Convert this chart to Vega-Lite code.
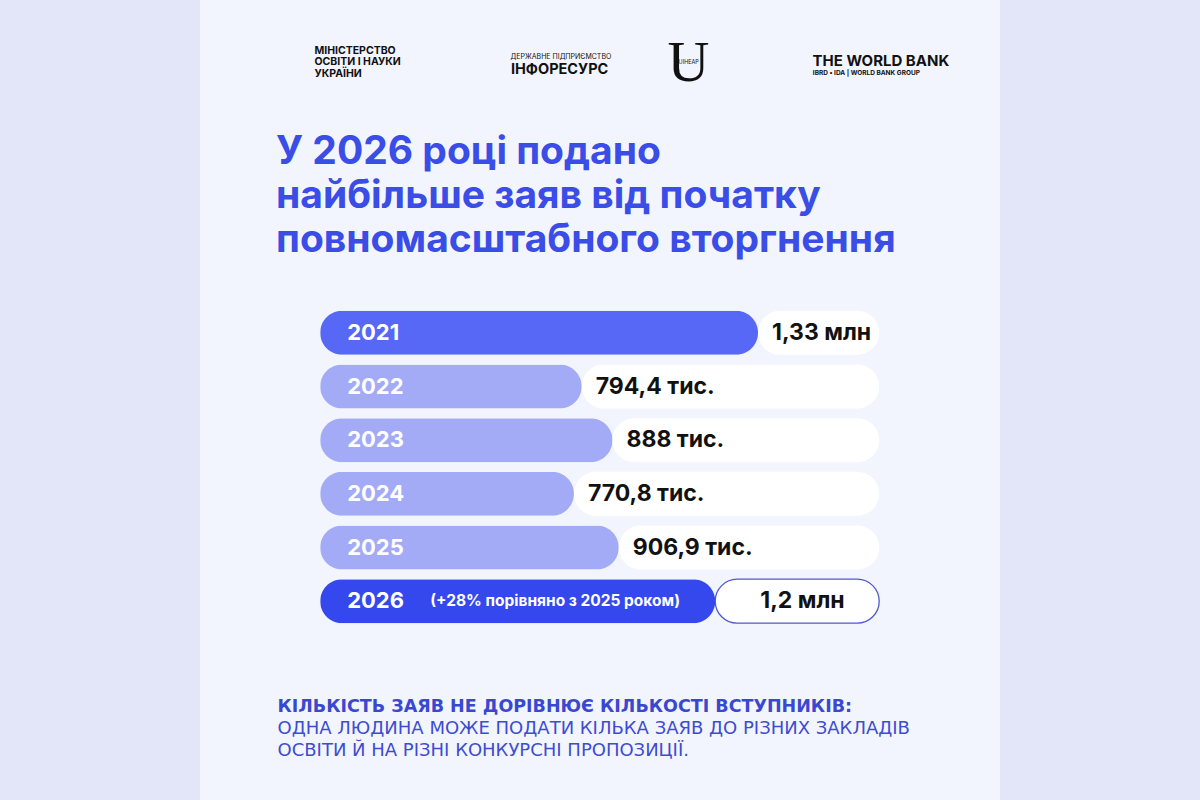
{
  "$schema": "https://vega.github.io/schema/vega-lite/v6.json",
  "width": 800,
  "height": 800,
  "autosize": {"type": "none"},
  "padding": {"left": 200, "right": 200, "top": 0, "bottom": 0},
  "background": "#e3e6f8",
  "config": {"view": {"fill": "#f2f5fe", "stroke": null}},
  "title": {
    "text": ["У 2026 році подано", "найбільше заяв від початку", "повномасштабного вторгнення"],
    "anchor": "start",
    "frame": "group",
    "orient": "top",
    "baseline": "top",
    "offset": -260,
    "dx": 76,
    "font": "Inter",
    "fontSize": 39,
    "fontWeight": 700,
    "lineHeight": 44,
    "color": "#3a4de6"
  },
  "data": {
    "values": [
      {"year": "2021", "value": 1330, "label": "1,33 млн", "note": ""},
      {"year": "2022", "value": 794.4, "label": "794,4 тис.", "note": ""},
      {"year": "2023", "value": 888, "label": "888 тис.", "note": ""},
      {"year": "2024", "value": 770.8, "label": "770,8 тис.", "note": ""},
      {"year": "2025", "value": 906.9, "label": "906,9 тис.", "note": ""},
      {"year": "2026", "value": 1200, "label": "1,2 млн", "note": "(+28% порівняно з 2025 роком)"}
    ]
  },
  "resolve": {"axis": {"x": "independent"}},
  "encoding": {
    "y": {
      "field": "year",
      "type": "nominal",
      "axis": null,
      "scale": {"range": [306, 628], "paddingInner": 0.18, "paddingOuter": 0.09}
    }
  },
  "layer": [
    {
      "mark": {"type": "bar", "cornerRadius": 22, "fill": "#ffffff", "strokeWidth": 1.3},
      "encoding": {
        "x": {
          "field": "value",
          "type": "quantitative",
          "scale": {"domain": [-365, 2065], "nice": false, "zero": false},
          "axis": {
            "orient": "top",
            "offset": -737,
            "values": [-131],
            "labelExpr": "['ОДНА ЛЮДИНА МОЖЕ ПОДАТИ КІЛЬКА ЗАЯВ ДО РІЗНИХ ЗАКЛАДІВ', 'ОСВІТИ Й НА РІЗНІ КОНКУРСНІ ПРОПОЗИЦІЇ.']",
            "labelAlign": "left",
            "labelFont": "DejaVu Sans",
            "labelFontSize": 18,
            "labelFontWeight": 400,
            "labelColor": "#3d4cd0",
            "labelLineHeight": 22,
            "labelPadding": 0,
            "labelLimit": 0,
            "labelFlush": false,
            "labelOverlap": false,
            "labelBound": false,
            "domain": false,
            "ticks": false,
            "grid": false,
            "title": "КІЛЬКІСТЬ ЗАЯВ НЕ ДОРІВНЮЄ КІЛЬКОСТІ ВСТУПНИКІВ:",
            "titleFont": "DejaVu Sans",
            "titleFontSize": 17.5,
            "titleFontWeight": 700,
            "titleColor": "#3a48d0",
            "titleAnchor": "start",
            "titleAlign": "left",
            "titleLimit": 0,
            "titleX": 77,
            "titlePadding": 4
          }
        },
        "x2": {"datum": 1698},
        "stroke": {"condition": {"test": "datum.year === '2026'", "value": "#4f57cc"}, "value": "transparent"}
      }
    },
    {
      "mark": {"type": "bar", "cornerRadius": 22},
      "encoding": {
        "x": {
          "field": "value",
          "type": "quantitative",
          "axis": {
            "orient": "bottom",
            "offset": -760,
            "values": [-19, 577, 578, 1117, 1118, 1494, 1495],
            "labelExpr": "datum.value == -19 ? ['МІНІСТЕРСТВО', 'ОСВІТИ І НАУКИ', 'УКРАЇНИ'] : datum.value == 577 ? 'ДЕРЖАВНЕ ПІДПРИЄМСТВО' : datum.value == 578 ? 'ІНФОРЕСУРС' : datum.value == 1117 ? 'U' : datum.value == 1118 ? 'UIHEAP' : datum.value == 1494 ? 'THE WORLD BANK' : 'IBRD • IDA | WORLD BANK GROUP'",
            "labelFontSize": {"expr": "datum.value == -19 ? 10.5 : datum.value == 577 ? 7 : datum.value == 578 ? 14.5 : datum.value == 1117 ? 58 : datum.value == 1118 ? 5.5 : datum.value == 1494 ? 15 : 6.5"},
            "labelFont": {"expr": "datum.value == 1117 ? 'Liberation Serif' : 'Inter'"},
            "labelFontWeight": {"expr": "(datum.value == 577 || datum.value == 1117 || datum.value == 1118) ? 400 : 700"},
            "labelAlign": {"expr": "(datum.value == 1117 || datum.value == 1118) ? 'center' : 'left'"},
            "labelPadding": {"expr": "datum.value == -19 ? 13 : datum.value == 577 ? 18 : datum.value == 578 ? 33 : datum.value == 1117 ? 40 : datum.value == 1118 ? 23 : datum.value == 1494 ? 25 : 34"},
            "labelBaseline": "alphabetic",
            "labelLineHeight": 11.5,
            "labelLimit": 0,
            "labelColor": "#111111",
            "labelFlush": false,
            "labelOverlap": false,
            "labelBound": false,
            "domain": false,
            "ticks": false,
            "grid": false,
            "title": null
          }
        },
        "color": {
          "field": "year",
          "type": "nominal",
          "scale": {
            "domain": ["2021", "2022", "2023", "2024", "2025", "2026"],
            "range": ["#5767f6", "#a3abf7", "#a3abf7", "#a3abf7", "#a3abf7", "#3548ee"]
          },
          "legend": null
        }
      }
    },
    {
      "mark": {"type": "text", "align": "left", "baseline": "middle", "dx": 27, "font": "Inter", "fontSize": 22, "fontWeight": 700, "color": "#ffffff"},
      "encoding": {
        "x": {"datum": 0, "type": "quantitative", "axis": null},
        "text": {"field": "year"}
      }
    },
    {
      "transform": [{"filter": "datum.year !== '2026'"}],
      "mark": {"type": "text", "align": "left", "baseline": "middle", "dx": 14, "font": "Inter", "fontSize": 23, "fontWeight": 700, "color": "#111111"},
      "encoding": {
        "x": {"field": "value", "type": "quantitative", "axis": null},
        "text": {"field": "label"}
      }
    },
    {
      "transform": [{"filter": "datum.year === '2026'"}],
      "mark": {"type": "text", "align": "left", "baseline": "middle", "dx": 45, "font": "Inter", "fontSize": 23, "fontWeight": 700, "color": "#111111"},
      "encoding": {
        "x": {"field": "value", "type": "quantitative", "axis": null},
        "text": {"field": "label"}
      }
    },
    {
      "transform": [{"filter": "datum.note !== ''"}],
      "mark": {"type": "text", "align": "left", "baseline": "middle", "dx": 110, "font": "Inter", "fontSize": 15.5, "fontWeight": 700, "color": "#ffffff"},
      "encoding": {
        "x": {"datum": 0, "type": "quantitative", "axis": null},
        "text": {"field": "note"}
      }
    }
  ]
}
